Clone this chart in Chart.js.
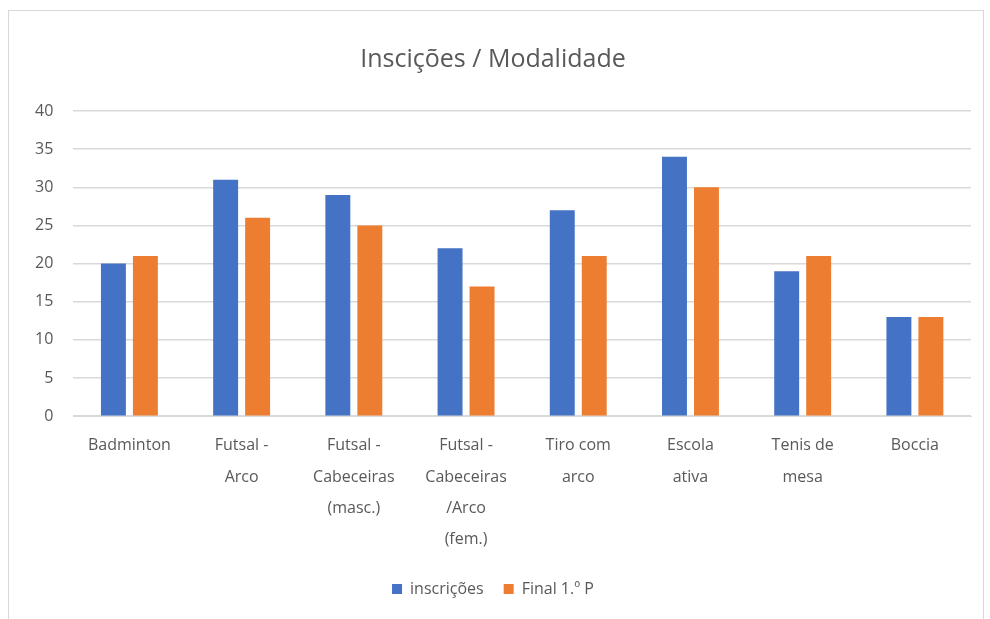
<!DOCTYPE html>
<html lang="en">
<head>
    <meta charset="UTF-8">
    <title>Inscições / Modalidade</title>
    <style>
        * { margin: 0; padding: 0; box-sizing: border-box; }
        body { background-color: #fff; width: 990px; height: 619px; overflow: hidden; }
        .chart-box { position: absolute; left: 8px; top: 10px; width: 976px; height: 609px; border: 1px solid #d9d9d9; border-bottom: none; background: #fff; }
        #chart { display: block; }
    </style>
</head>
<body>
    <div class="chart-box">
        <canvas id="chart" width="974" height="608"></canvas>
    </div>

    <script src="https://cdn.jsdelivr.net/npm/chart.js@4.4.0/dist/chart.umd.min.js"></script>
    <script>
        const categories = [
            ['Badminton'],
            ['Futsal -', 'Arco'],
            ['Futsal -', 'Cabeceiras', '(masc.)'],
            ['Futsal -', 'Cabeceiras', '/Arco', '(fem.)'],
            ['Tiro com', 'arco'],
            ['Escola', 'ativa'],
            ['Tenis de', 'mesa'],
            ['Boccia']
        ];
        const inscricoes = [20, 31, 29, 22, 27, 34, 19, 13];
        const finalP1 = [21, 26, 25, 17, 21, 30, 21, 13];
        const yTicks = [0, 5, 10, 15, 20, 25, 30, 35, 40];

        const fontFamily = "'Open Sans', 'Liberation Sans', sans-serif";
        const textColor = '#595959';

        const ctx = document.getElementById('chart').getContext('2d');
        new Chart(ctx, {
            type: 'bar',
            data: {
                labels: categories,
                datasets: [
                    { label: 'inscrições', data: inscricoes, backgroundColor: '#4472c4', categoryPercentage: 0.57, barPercentage: 0.78 },
                    { label: 'Final 1.º P', data: finalP1, backgroundColor: '#ed7d31', categoryPercentage: 0.57, barPercentage: 0.78 }
                ]
            },
            options: {
                responsive: false,
                animation: false,
                layout: { padding: { left: 6, right: 12, top: 8, bottom: 12 } },
                plugins: {
                    title: {
                        display: true,
                        text: 'Inscições / Modalidade',
                        color: textColor,
                        font: { family: fontFamily, size: 25, weight: 'normal' },
                        padding: { top: 26, bottom: 36 }
                    },
                    legend: {
                        position: 'bottom',
                        labels: {
                            color: textColor,
                            font: { family: fontFamily, size: 16 },
                            boxWidth: 10,
                            boxHeight: 10,
                            padding: 20
                        }
                    },
                    tooltip: { enabled: false }
                },
                scales: {
                    x: {
                        grid: { display: false },
                        border: { color: '#d9d9d9' },
                        ticks: {
                            color: textColor,
                            font: { family: fontFamily, size: 16, lineHeight: 1.95 },
                            padding: 6,
                            maxRotation: 0,
                            autoSkip: false
                        }
                    },
                    y: {
                        min: 0,
                        max: 40,
                        afterBuildTicks: (axis) => { axis.ticks = yTicks.map(v => ({ value: v })); },
                        grid: { color: '#d9d9d9', lineWidth: 1.5, drawTicks: false },
                        border: { display: false },
                        ticks: {
                            color: textColor,
                            font: { family: fontFamily, size: 16 },
                            padding: 20
                        }
                    }
                }
            }
        });
    </script>
</body>
</html>
